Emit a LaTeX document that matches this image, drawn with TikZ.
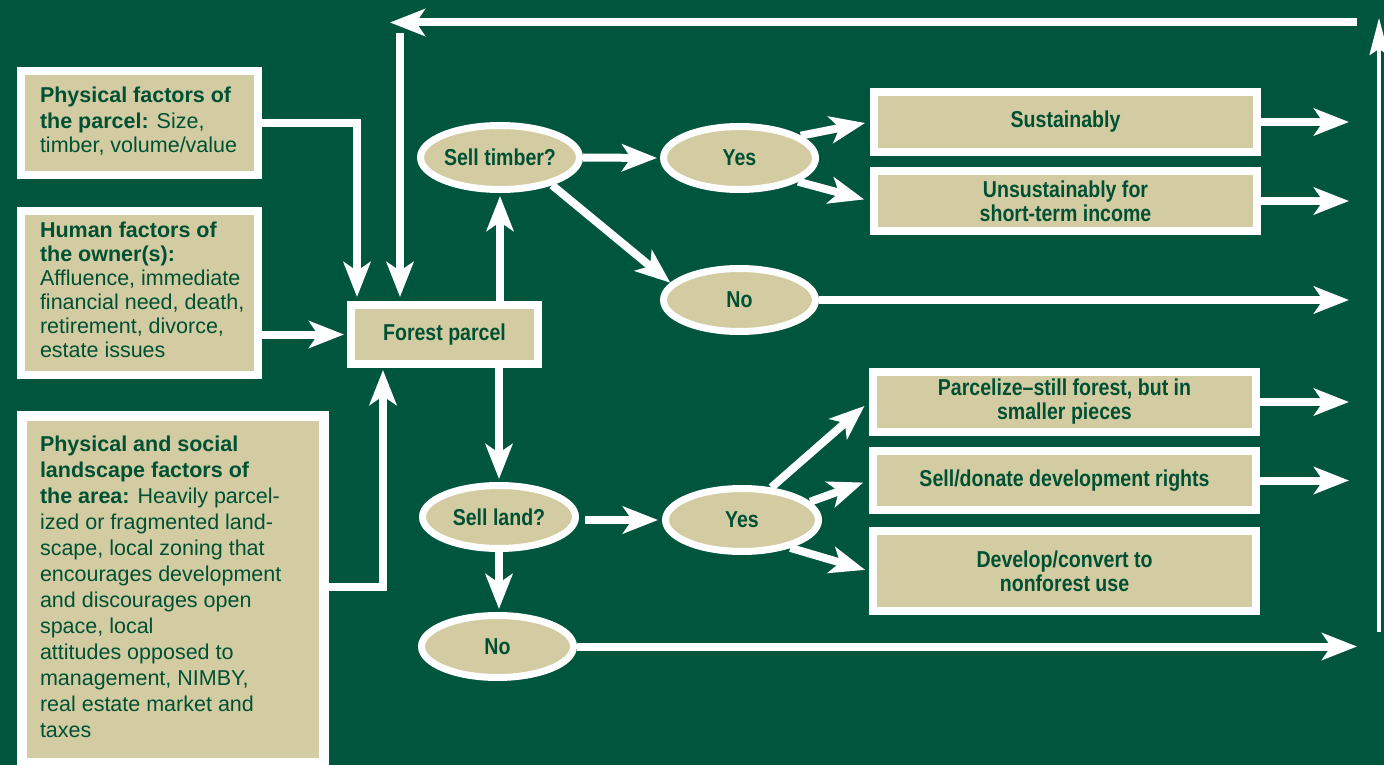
\documentclass[tikz,border=0pt]{standalone}
\usepackage{fontspec}
\setmainfont{Liberation Sans}
\newfontfamily\condfont[FakeStretch=0.85]{Liberation Sans}
\usetikzlibrary{arrows.meta,shapes.geometric}
\definecolor{bggreen}{RGB}{0,85,61}
\definecolor{tanfill}{RGB}{211,204,162}
\definecolor{txtgreen}{RGB}{0,80,52}
\begin{document}
\begin{tikzpicture}[x=1pt,y=-1pt,
  factbox/.style={rectangle, draw=white, line width=8pt, fill=tanfill, inner sep=0pt, text=txtgreen,
    font=\fontsize{21.5}{25}\selectfont},
  rbox/.style={rectangle, draw=white, line width=8pt, fill=tanfill, inner sep=0pt, text=txtgreen, align=center,
    font=\condfont\bfseries\fontsize{23}{24}\selectfont},
  ell/.style={ellipse, draw=white, line width=7pt, fill=tanfill, inner sep=0pt, text=txtgreen,
    font=\condfont\bfseries\fontsize{23}{24}\selectfont},
  arr/.style={draw=white, line width=8pt, -{Stealth[length=35pt,width=27pt,inset=9pt]}},
  thinarr/.style={draw=white, line width=3.5pt, -{Stealth[length=37pt,width=19pt,inset=6pt]}}
]
\useasboundingbox (0,0) rectangle (1384,765);
\clip (0,0) rectangle (1384,765);
\fill[bggreen] (0,0) rectangle (1384,765);

% left factor boxes
\node[factbox, minimum width=237.5pt, minimum height=104pt] (phys) at (139.25,123)
  {\makebox[198.5pt][l]{\begin{tabular}{@{}l@{}}\textbf{Physical factors of}\\\textbf{the parcel:} Size,\\timber, volume/value\end{tabular}}};
\node[factbox, minimum width=237.5pt, minimum height=164pt, font=\fontsize{21.5}{24}\selectfont] (human) at (139.25,293)
  {\makebox[198.5pt][l]{\begin{tabular}{@{}l@{}}\textbf{Human factors of}\\\textbf{the owner(s):}\\Affluence, immediate\\financial need, death,\\retirement, divorce,\\estate issues\end{tabular}}};
\node[factbox, line width=10pt, minimum width=302.5pt, minimum height=347pt, font=\fontsize{21.5}{26}\selectfont] (land) at (172.75,589.5)
  {\makebox[265.5pt][l]{\begin{tabular}{@{}l@{}}\textbf{Physical and social}\\\textbf{landscape factors of}\\\textbf{the area:} Heavily parcel-\\ized or fragmented land-\\scape, local zoning that\\encourages development\\and discourages open\\space, local\\attitudes opposed to\\management, NIMBY,\\real estate market and\\taxes\end{tabular}}};

% centre
\node[rbox, minimum width=187pt, minimum height=59pt] (forest) at (444.5,334.5) {Forest parcel};

% ellipses
\node[ell, minimum width=159pt, minimum height=64pt] (st) at (500,157.5) {Sell timber?};
\node[ell, minimum width=152pt, minimum height=63pt] (yes1) at (739.5,158) {Yes};
\node[ell, minimum width=152pt, minimum height=63pt] (no1) at (739.5,300) {No};
\node[ell, minimum width=153pt, minimum height=63pt] (sl) at (499,517) {Sell land?};
\node[ell, minimum width=153pt, minimum height=63pt] (yes2) at (742,520) {Yes};
\node[ell, minimum width=152pt, minimum height=62pt] (no2) at (497.5,646.5) {No};

% right boxes
\node[rbox, minimum width=383pt, minimum height=60pt] (sust) at (1065.5,122) {Sustainably};
\node[rbox, minimum width=383pt, minimum height=60pt] (unsust) at (1065.5,201) {Unsustainably for\\short-term income};
\node[rbox, minimum width=383pt, minimum height=60pt] (parc) at (1064.5,402) {Parcelize–still forest, but in\\smaller pieces};
\node[rbox, minimum width=383pt, minimum height=59pt] (sd) at (1064.5,480.5) {Sell/donate development rights};
\node[rbox, minimum width=383pt, minimum height=80pt] (dev) at (1064.5,571) {Develop/convert to\\nonforest use};

% helper coordinates
\coordinate (j1) at (357,123);
\coordinate (fb) at (400,33);
\coordinate (topR) at (1357,22.5);
\coordinate (topL) at (390,22.5);
\coordinate (rvB) at (1379,632);
\coordinate (rvT) at (1379,18);
\coordinate (j3) at (383,587);
\coordinate (xend) at (1349,0);
\coordinate (xend2) at (1357,0);

% connectors
\draw[arr, shorten >=4pt] (phys.east) -- (j1) -- (j1 |- forest.north);
\draw[arr, shorten >=4pt] (fb) -- (fb |- forest.north);
\draw[arr] (topR) -- (topL);
\draw[thinarr] (rvB) -- (rvT);
\draw[arr, shorten >=3pt] (human.east |- forest.west) -- (forest.west);
\draw[arr, shorten >=2pt] (land.east |- j3) -- (j3) -- (j3 |- forest.south);
\draw[arr, shorten >=3pt] (st.south |- forest.north) -- (st.south);
\draw[arr, shorten >=3pt] (sl.north |- forest.south) -- (sl.north);
\draw[arr, shorten >=3pt] (sl.south) -- (sl.south |- no2.north);
\draw[arr, shorten >=3pt] (st.east) -- (yes1.west);
\draw[arr] (st.-28) -- (no1.166);
\draw[arr, shorten >=5pt] (yes1.20) -- (sust.west);
\draw[arr, shorten >=6pt] (yes1.-22) -- (unsust.west);
\draw[arr] (no1.east) -- (no1.east -| xend);
\draw[arr] (sust.east) -- (sust.east -| xend);
\draw[arr] (unsust.east) -- (unsust.east -| xend);
\draw[arr, shorten <=6pt, shorten >=4pt] (sl.east |- yes2.west) -- (yes2.west);
\draw[arr, shorten >=6pt] (yes2.48) -- (parc.west);
\draw[arr, shorten >=6pt] (yes2.15) -- (sd.west);
\draw[arr, shorten >=4pt] (yes2.-30) -- (dev.west);
\draw[arr] (parc.east) -- (parc.east -| xend);
\draw[arr] (sd.east) -- (sd.east -| xend);
\draw[arr] (no2.east) -- (no2.east -| xend2);
\end{tikzpicture}
\end{document}
